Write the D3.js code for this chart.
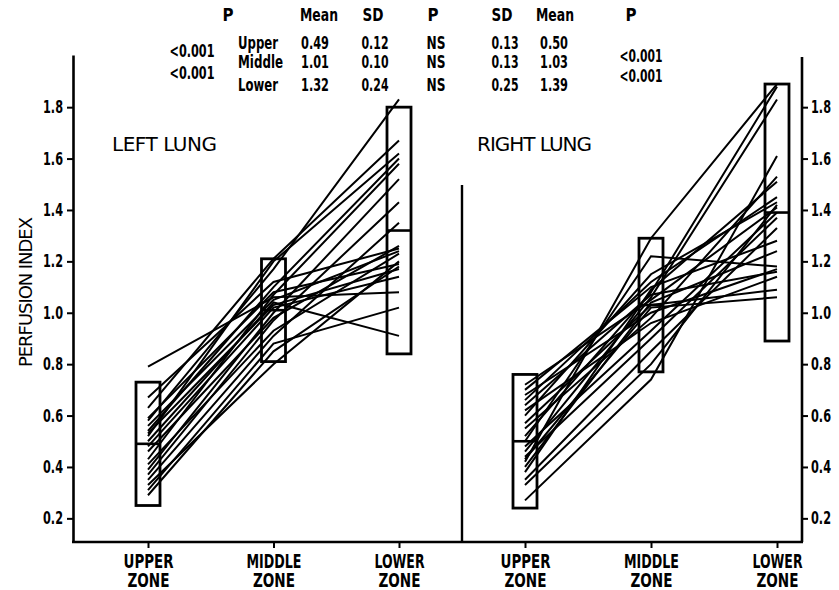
<!DOCTYPE html>
<html>
<head>
<meta charset="utf-8">
<script src="https://cdn.jsdelivr.net/npm/d3@7/dist/d3.min.js"></script>
<style>
  body { margin: 0; background: #fff; }
  svg { display: block; }
  .cond { font-family: 'DejaVu Sans Condensed', 'DejaVu Sans', sans-serif; font-weight: bold; }
  .plain { font-family: 'DejaVu Sans', 'Liberation Sans', sans-serif; }
</style>
</head>
<body>
<div id="chart"></div>
<script>
'use strict';

// zones on the x axis
const zones = ['UPPER', 'MIDDLE', 'LOWER'];
const yTicks = [0.2, 0.4, 0.6, 0.8, 1.0, 1.2, 1.4, 1.6, 1.8];

// perfusion index per patient, left lung
const leftUpper  = [0.79, 0.67, 0.63, 0.59, 0.58, 0.56, 0.54, 0.53, 0.52, 0.50, 0.48, 0.46, 0.43, 0.41, 0.39, 0.37, 0.35, 0.33, 0.31, 0.29];
const leftMiddle = [1.06, 1.12, 1.21, 1.08, 1.17, 1.05, 1.10, 1.03, 1.20, 1.04, 1.02, 0.98, 1.07, 0.93, 1.00, 0.97, 0.91, 0.80, 0.88, 0.85];
const leftLower  = [1.08, 1.25, 1.67, 1.19, 1.83, 1.24, 1.60, 1.17, 1.62, 0.91, 1.14, 1.26, 1.58, 1.23, 1.52, 1.43, 1.35, 1.20, 1.02, 1.18];

// perfusion index per patient, right lung
const rightUpper  = [0.72, 0.70, 0.68, 0.66, 0.64, 0.62, 0.60, 0.57, 0.55, 0.52, 0.50, 0.48, 0.46, 0.44, 0.43, 0.42, 0.40, 0.38, 0.35, 0.33, 0.27];
const rightMiddle = [1.05, 1.10, 1.00, 1.12, 1.07, 0.96, 1.15, 1.03, 0.98, 1.08, 1.22, 0.93, 1.06, 0.90, 1.02, 1.29, 1.04, 1.09, 0.85, 0.80, 0.74];
const rightLower  = [1.41, 1.28, 1.17, 1.45, 1.16, 1.14, 1.43, 1.09, 1.53, 1.88, 1.18, 1.39, 1.83, 1.37, 1.06, 1.89, 1.24, 1.51, 1.33, 1.42, 1.61];

// summary table
const rowNames  = ['Upper', 'Middle', 'Lower'];
const leftMean  = [0.49, 1.01, 1.32];
const leftSD    = [0.12, 0.10, 0.24];
const rightSD   = [0.13, 0.13, 0.25];
const rightMean = [0.50, 1.03, 1.39];
const midP      = ['NS', 'NS', 'NS'];
const leftP     = ['<0.001', '<0.001'];
const rightP    = ['<0.001', '<0.001'];

const width = 839, height = 590;
const fmt1 = d3.format('.1f'), fmt2 = d3.format('.2f');

const svg = d3.select('#chart').append('svg')
    .attr('width', width)
    .attr('height', height);

const y = d3.scaleLinear().domain([0.108, 2.003]).range([542, 55]);
const xLeft = d3.scalePoint().domain(zones).range([148, 399]);
const xRight = d3.scalePoint().domain(zones).range([525, 777]);

// squeeze text to the narrow width of the original lettering
function squeeze(sel, w) {
    sel.attr('textLength', w).attr('lengthAdjust', 'spacingAndGlyphs');
}

// y axes
const axL = svg.append('g').attr('transform', 'translate(73,0)')
    .call(d3.axisLeft(y).tickValues(yTicks).tickFormat(fmt1).tickSize(6).tickSizeOuter(0).tickPadding(4));
const axR = svg.append('g').attr('transform', 'translate(802,0)')
    .call(d3.axisRight(y).tickValues(yTicks).tickFormat(fmt1).tickSize(6).tickSizeOuter(0).tickPadding(3));
axR.select('.domain').attr('d', 'M0,' + (y.range()[0]) + 'V57');
[axL, axR].forEach(ax => {
    ax.select('.domain').attr('stroke-width', 2.6);
    ax.selectAll('.tick line').attr('stroke-width', 2);
    ax.selectAll('.tick text').attr('class', 'cond').attr('font-size', 17.5).attr('fill', '#000')
        .call(squeeze, 20);
});

// baseline and divider
svg.append('line')
    .attr('x1', 72).attr('x2', 803)
    .attr('y1', y.range()[0]).attr('y2', y.range()[0])
    .attr('stroke', '#000').attr('stroke-width', 2.6);
svg.append('line')
    .attr('x1', 462).attr('x2', 462)
    .attr('y1', 185).attr('y2', y.range()[0])
    .attr('stroke', '#000').attr('stroke-width', 2.4);

// zone axes
[xLeft, xRight].forEach(x => {
    const g = svg.append('g').attr('transform', 'translate(0,' + y.range()[0] + ')')
        .call(d3.axisBottom(x).tickSize(6).tickSizeOuter(0));
    g.select('.domain').remove();
    g.selectAll('.tick line').attr('stroke-width', 2);
    g.selectAll('.tick text').remove();
    g.selectAll('.tick').append('text')
        .attr('class', 'cond').attr('font-size', 19).attr('fill', '#000')
        .attr('text-anchor', 'middle').attr('y', 26)
        .text(d => d)
        .each(function (d) { squeeze(d3.select(this), d === 'MIDDLE' ? 55 : 50); });
    g.selectAll('.tick').append('text')
        .attr('class', 'cond').attr('font-size', 19).attr('fill', '#000')
        .attr('text-anchor', 'middle').attr('y', 45)
        .text('ZONE')
        .call(squeeze, 42);
});

// patient lines
const line = d3.line();
function drawLung(x, up, mid, low, mean, sd) {
    const g = svg.append('g');
    const rows = up.map((u, i) => [u, mid[i], low[i]]);
    g.selectAll('path.pt')
        .data(rows)
        .enter()
        .append('path')
        .attr('class', 'pt')
        .attr('d', d => line(d.map((v, i) => [x(zones[i]), y(v)])))
        .attr('fill', 'none')
        .attr('stroke', '#000')
        .attr('stroke-width', 2);
    // mean +/- 2 SD boxes
    const bw = 24;
    g.selectAll('rect')
        .data(zones)
        .enter()
        .append('rect')
        .attr('x', d => x(d) - bw / 2)
        .attr('width', bw)
        .attr('y', (d, i) => y(mean[i] + 2 * sd[i]))
        .attr('height', (d, i) => y(mean[i] - 2 * sd[i]) - y(mean[i] + 2 * sd[i]))
        .attr('fill', 'none')
        .attr('stroke', '#000')
        .attr('stroke-width', 2.8);
    g.selectAll('line.mean')
        .data(zones)
        .enter()
        .append('line')
        .attr('class', 'mean')
        .attr('x1', d => x(d) - bw / 2).attr('x2', d => x(d) + bw / 2)
        .attr('y1', (d, i) => y(mean[i])).attr('y2', (d, i) => y(mean[i]))
        .attr('stroke', '#000')
        .attr('stroke-width', 2.6);
}
drawLung(xLeft, leftUpper, leftMiddle, leftLower, leftMean, leftSD);
drawLung(xRight, rightUpper, rightMiddle, rightLower, rightMean, rightSD);

// titles
svg.append('text').attr('class', 'plain').attr('x', 112).attr('y', 151)
    .attr('font-size', 20).attr('textLength', 105).text('LEFT LUNG');
svg.append('text').attr('class', 'plain').attr('x', 477).attr('y', 151)
    .attr('font-size', 20).attr('textLength', 115).text('RIGHT LUNG');
svg.append('text').attr('class', 'plain')
    .attr('transform', 'translate(32,292) rotate(-90)')
    .attr('text-anchor', 'middle')
    .attr('font-size', 18).attr('textLength', 150).text('PERFUSION INDEX');

// summary table
const tbl = svg.append('g').attr('class', 'cond').attr('font-size', 18).attr('fill', '#000');
const headers = [['P', 228, 11], ['Mean', 319, 38], ['SD', 373, 21], ['P', 433, 11], ['SD', 502, 21], ['Mean', 555, 38], ['P', 631, 11]];
tbl.selectAll(null)
    .data(headers)
    .enter()
    .append('text')
    .attr('x', d => d[1]).attr('y', 21)
    .attr('text-anchor', 'middle')
    .text(d => d[0])
    .each(function (d) { squeeze(d3.select(this), d[2]); });
const rowY = [49, 68, 91];
const cols = [
    [rowNames, 238, 'start', d => d, d => (d === 'Middle' ? 45 : 40)],
    [leftMean, 315, 'middle', fmt2, () => 28],
    [leftSD, 375, 'middle', fmt2, () => 27],
    [midP, 436, 'middle', d => d, () => 19],
    [rightSD, 505, 'middle', fmt2, () => 27],
    [rightMean, 554, 'middle', fmt2, () => 28]
];
cols.forEach(c => {
    tbl.selectAll(null)
        .data(c[0])
        .enter()
        .append('text')
        .attr('x', c[1])
        .attr('y', (d, i) => rowY[i])
        .attr('text-anchor', c[2])
        .text(c[3])
        .each(function (d) { squeeze(d3.select(this), c[4](d)); });
});
tbl.selectAll(null).data(leftP).enter().append('text')
    .attr('x', 192).attr('y', (d, i) => [57, 79][i])
    .attr('text-anchor', 'middle').text(d => d)
    .call(squeeze, 45);
tbl.selectAll(null).data(rightP).enter().append('text')
    .attr('x', 641).attr('y', (d, i) => [62, 82][i])
    .attr('text-anchor', 'middle').text(d => d)
    .call(squeeze, 43);
</script>
</body>
</html>
